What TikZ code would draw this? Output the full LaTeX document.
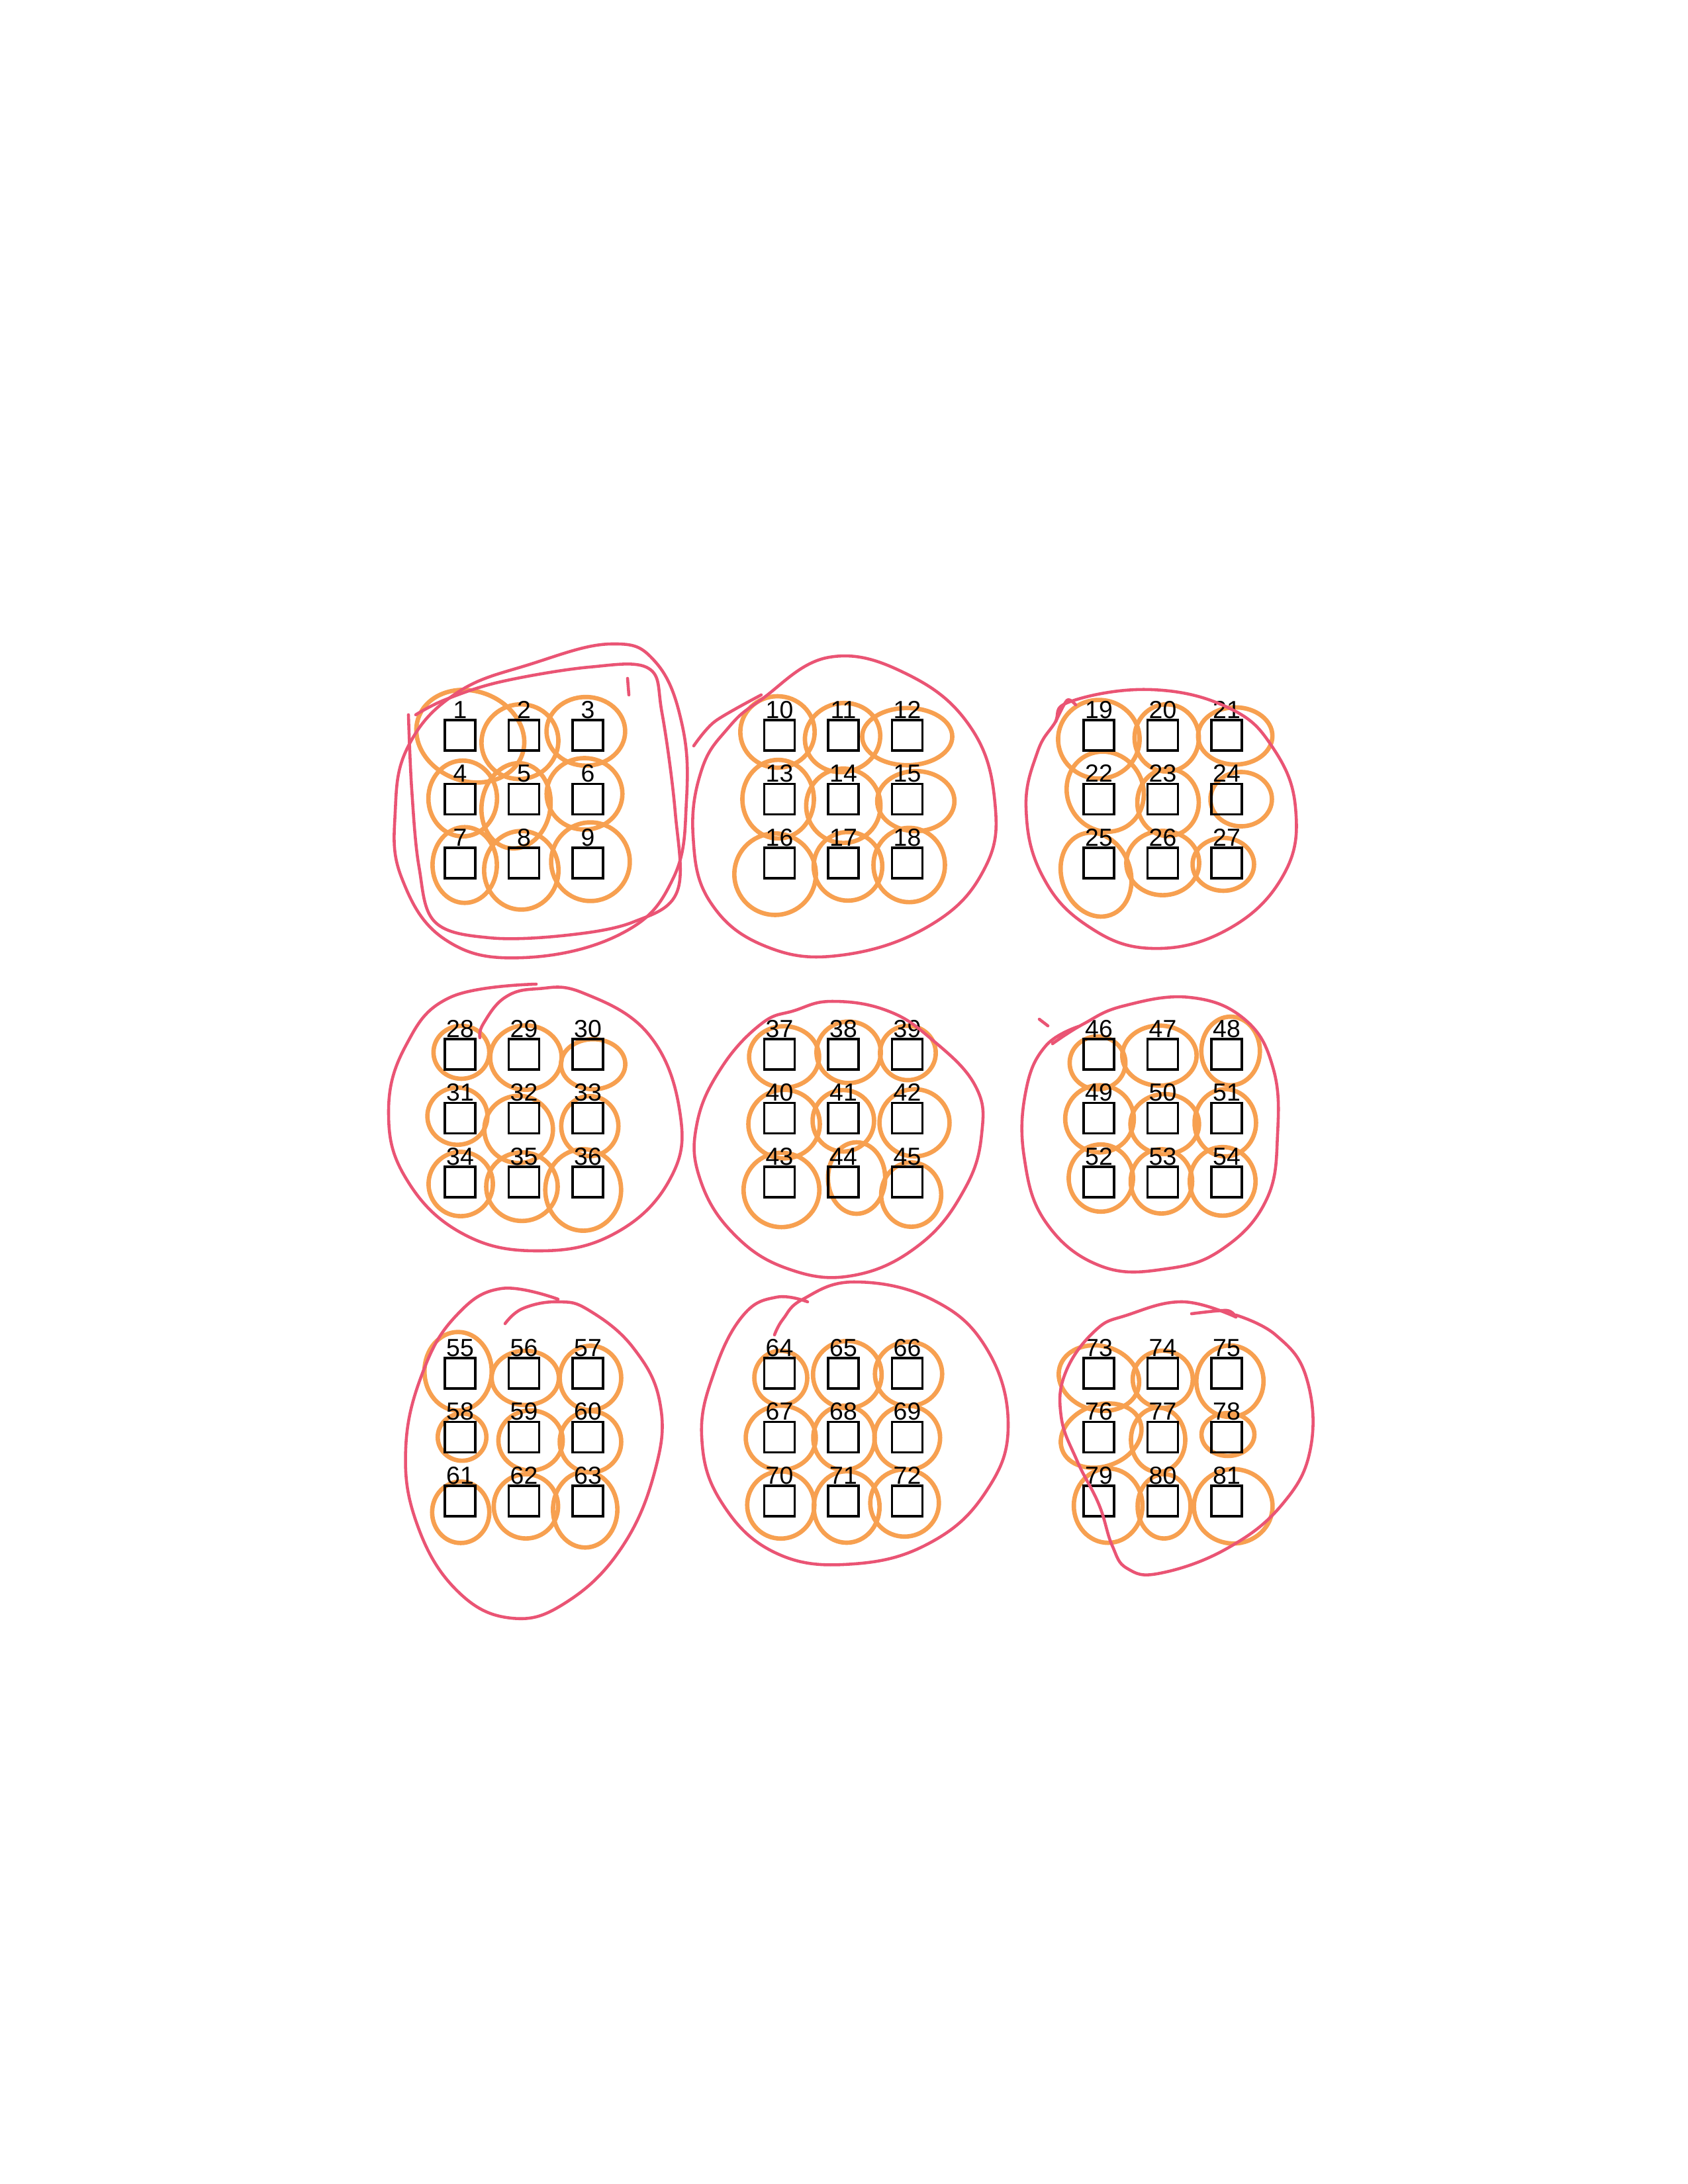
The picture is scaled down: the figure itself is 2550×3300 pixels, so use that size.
\documentclass[tikz,border=0pt]{standalone}
\usepackage{fontspec}
\setmainfont{Liberation Sans}
\usetikzlibrary{positioning,backgrounds}
\definecolor{penorange}{RGB}{247,160,80}
\definecolor{penred}{RGB}{234,84,116}
\begin{document}
\begin{tikzpicture}[
    x=0.084667mm, y=-0.084667mm,
    cell/.style={draw, rectangle, line width=0.85pt, minimum size=3.9mm, inner sep=0pt},
    num/.style={inner sep=0pt, font=\fontsize{9}{9}\selectfont},
    ring/.style={draw=penorange, line width=1.6pt},
    blob/.style={draw=penred, line width=1.1pt, line cap=round, line join=round},
]
\useasboundingbox (0,0) rectangle (2550,3300);

% Kästchen mit Nummern
\foreach \gy in {0,1,2}
  \foreach \gx in {0,1,2}
    \foreach \r in {0,1,2}
      \foreach \c in {0,1,2} {
        \pgfmathtruncatemacro\n{27*\gy+9*\gx+3*\r+\c+1}
        \node[cell] (s\n) at (695+482.5*\gx+96.5*\c, 1111+482*\gy+96.5*\r) {};
        \node[num, above=0pt of s\n] (n\n) {\n};
      }

% Orange Schlingen um jedes Kästchen (hinter den Kästchen)
\begin{scope}[on background layer]
\fill[white] (0,0) rectangle (2550,3300);
\foreach \n/\dx/\dy/\rx/\ry/\rot in {
    1/15/-4/77/63/-20, 2/-9/7/54/52/20, 3/-3/-6/55/48/0,
    4/4/-1/48/53/0, 5/-10/12/48/60/-10, 6/-5/-8/53/50/0,
    7/7/3/45/53/0, 8/-4/11/52/55/0, 9/4/-2/55/55/0,
    10/-3/-5/52/50/0, 11/-2/3/53/48/15, 12/0/2/63/40/0,
    13/-2/0/50/55/0, 14/0/10/52/52/0, 15/13/3/54/42/0,
    16/-2/18/57/57/-15, 17/7/5/48/48/0, 18/3/3/50/52/0,
    19/0/6/57/55/0, 20/6/4/45/47/0, 21/13/1/52/40/0,
    22/14/-5/53/57/30, 23/8/5/43/47/0, 24/22/0/43/38/0,
    25/-10/15/48/60/20, 26/0/0/51/45/0, 27/-5/2/43/37/0,
    28/2/-3/39/37/0, 29/3/5/50/45/0, 30/8/15/45/35/0,
    31/-4/-3/42/40/0, 32/-8/17/48/47/0, 33/3/12/40/42/0,
    34/1/3/45/45/0, 35/-3/7/50/48/0, 36/-7/12/53/57/0,
    37/7/4/49/43/0, 38/8/-3/45/43/0, 39/1/-2/39/38/0,
    40/7/9/50/48/0, 41/0/4/43/43/0, 42/11/7/49/47/0,
    43/3/12/53/52/0, 44/20/-6/40/50/0, 45/6/19/42/45/0,
    46/-2/13/39/37/0, 47/-5/2/52/42/0, 48/6/-5/41/48/0,
    49/1/1/48/47/0, 50/3/9/48/42/0, 51/-2/7/43/47/0,
    52/3/-6/45/47/0, 53/-2/-1/43/45/0, 54/-6/-1/46/48/0,
    55/-3/-3/47/55/0, 56/2/7/47/38/0, 57/4/7/43/45/0,
    58/3/0/34/33/0, 59/10/5/45/42/0, 60/4/7/43/43/0,
    61/1/17/40/43/0, 62/3/8/45/45/0, 63/-4/13/45/53/0,
    64/2/7/37/38/0, 65/6/2/48/47/0, 66/2/1/47/45/0,
    67/2/1/49/45/0, 68/1/1/43/45/0, 69/0/1/46/45/0,
    70/2/6/47/47/0, 71/5/9/46/50/0, 72/-4/3/48/47/0,
    73/2/7/57/45/-15, 74/0/9/42/40/0, 75/5/12/47/50/0,
    76/4/-1/58/43/20, 77/-7/4/38/45/0, 78/2/-4/37/30/0,
    79/14/7/48/52/0, 80/2/8/37/45/0, 81/10/8/55/52/0}
  \draw[ring, shift={(s\n)}, rotate=\rot] (\dx,\dy) ellipse [x radius=1.08*\rx, y radius=1.08*\ry];
\end{scope}

% Rote Umrandungen der Gruppen
\draw[blob] plot[smooth, tension=0.6] coordinates {(617,1080) (622,1193) (633,1310) (657,1393) (740,1417)
  (857,1413) (957,1393) (1023,1347) (1020,1227) (1000,1077) (980,1010) (890,1008) (757,1030) (673,1057) (628,1080)};
\draw[blob] (948,1025) -- (950,1050);
\draw[blob] plot[smooth cycle, tension=0.7] coordinates {(803,1003) (923,973) (990,1000) (1030,1093) (1037,1210)
  (1017,1327) (940,1410) (790,1447) (673,1420) (607,1327) (597,1227) (617,1127) (690,1047)};

\draw[blob] plot[smooth cycle, tension=0.7] coordinates {(1150,1057) (1253,993) (1373,1020) (1467,1100) (1503,1213)
  (1487,1313) (1407,1397) (1273,1443) (1157,1430) (1073,1363) (1047,1263) (1060,1163) (1100,1100)};
\draw[blob] plot[smooth] coordinates {(1048,1127) (1080,1090) (1150,1050)};

\draw[blob] plot[smooth cycle, tension=0.7] coordinates {(1617,1060) (1740,1042) (1857,1070) (1923,1130) (1957,1220)
  (1940,1320) (1857,1403) (1740,1433) (1640,1397) (1573,1320) (1550,1220) (1567,1137) (1593,1093)};
\draw[blob] plot[smooth] coordinates {(1595,1090) (1612,1058) (1625,1065)};

\draw[blob] plot[smooth, tension=0.7] coordinates {(810,1487) (680,1507) (613,1580) (587,1680) (613,1780) (697,1863)
  (813,1890) (930,1863) (1013,1780) (1027,1680) (980,1563) (880,1500) (812,1494) (763,1507) (730,1547) (725,1568)};

\draw[blob] plot[smooth cycle, tension=0.7] coordinates {(1150,1547) (1200,1527) (1257,1513) (1340,1527) (1407,1570)
  (1473,1640) (1483,1713) (1457,1797) (1390,1880) (1290,1927) (1190,1917) (1107,1863) (1057,1780) (1053,1697) (1090,1613)};

\draw[blob] plot[smooth, tension=0.7] coordinates {(1632,1550) (1580,1580) (1550,1647) (1547,1747) (1580,1847)
  (1663,1913) (1763,1917) (1847,1887) (1913,1813) (1930,1713) (1923,1613) (1880,1540) (1797,1507) (1697,1520)
  (1637,1547) (1590,1577)};
\draw[blob] (1570,1540) -- (1583,1550);

\draw[blob] plot[smooth, tension=0.7] coordinates {(843,1963) (757,1947) (690,1987) (640,2070) (613,2187) (630,2303)
  (690,2403) (773,2445) (857,2420) (940,2337) (990,2220) (997,2120) (957,2037) (890,1980) (843,1967) (790,1977) (763,2000)};

\draw[blob] plot[smooth, tension=0.7] coordinates {(1220,1967) (1173,1960) (1123,1987) (1080,2070) (1060,2170)
  (1090,2270) (1173,2347) (1290,2363) (1407,2330) (1490,2253) (1523,2153) (1490,2037) (1407,1963) (1290,1937)
  (1213,1963) (1183,1993) (1170,2017)};

\draw[blob] plot[smooth, tension=0.7] coordinates {(1867,1990) (1787,1967) (1703,1987) (1655,2010) (1610,2073)
  (1603,2140) (1627,2207) (1660,2273) (1680,2335) (1703,2370) (1753,2377) (1853,2340) (1937,2273) (1980,2187)
  (1973,2080) (1927,2017) (1867,1987)};
\draw[blob] plot[smooth] coordinates {(1800,1985) (1853,1980) (1867,1990)};
\end{tikzpicture}
\end{document}
